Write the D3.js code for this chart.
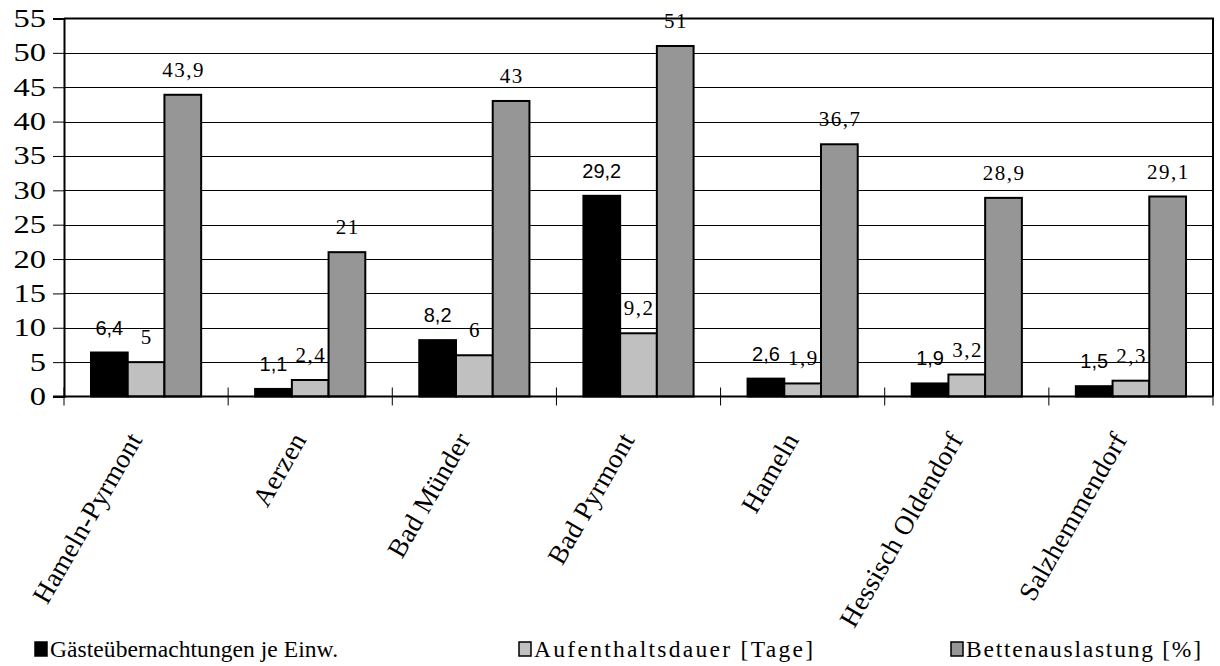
<!DOCTYPE html>
<html>
<head>
<meta charset="utf-8">
<script src="https://cdn.jsdelivr.net/npm/d3@7"></script>
<style>
  html, body { margin: 0; padding: 0; background: #fff; }
  svg { display: block; }
</style>
</head>
<body>
<svg id="chart" width="1220" height="666"></svg>
<script>
// Tourism indicators for the district Hameln-Pyrmont and its municipalities
const categories = ["Hameln-Pyrmont", "Aerzen", "Bad Münder", "Bad Pyrmont", "Hameln", "Hessisch Oldendorf", "Salzhemmendorf"];
const seriesNames = ["Gästeübernachtungen je Einw.", "Aufenthaltsdauer [Tage]", "Bettenauslastung [%]"];
const uebernachtungen = [6.4, 1.1, 8.2, 29.2, 2.6, 1.9, 1.5];
const aufenthaltsdauer = [5, 2.4, 6, 9.2, 1.9, 3.2, 2.3];
const bettenauslastung = [43.9, 21, 43, 51, 36.7, 28.9, 29.1];
const yTicks = [0, 5, 10, 15, 20, 25, 30, 35, 40, 45, 50, 55];

const SERIF = "\"Liberation Serif\", \"Times New Roman\", serif";
const SANS = "\"Liberation Sans\", Arial, sans-serif";

const seriesValues = [uebernachtungen, aufenthaltsdauer, bettenauslastung];
const fills = ["#000000", "#c0c0c0", "#969696"];
const labelFont = [SANS, SERIF, SERIF];
const labelSize = [20, 21, 21];
const labelSpacing = [0, 1.5, 1.5];

const svg = d3.select("#chart");
const plotLeft = 64, plotRight = 1213, plotTop = 18.5, plotBottom = 396.5;

const x = d3.scaleBand().domain(categories).range([plotLeft, plotRight]).paddingInner(0).paddingOuter(0);
const inner = d3.scaleBand().domain(d3.range(3)).range([0, x.bandwidth()]).paddingInner(0).paddingOuter(0.735);
const y = d3.scaleLinear().domain([0, 55]).range([plotBottom, plotTop]);

// horizontal gridlines
svg.append("g")
  .selectAll("line")
  .data(yTicks.filter(d => d > 0 && d < 55))
  .join("line")
  .attr("x1", plotLeft).attr("x2", plotRight)
  .attr("y1", d => Math.round(y(d)) + 0.5).attr("y2", d => Math.round(y(d)) + 0.5)
  .attr("stroke", "#000").attr("stroke-width", 1);

// plot frame (top and right)
svg.append("path")
  .attr("d", `M${plotLeft},${y(55)}H${plotRight}V${plotBottom}`)
  .attr("fill", "none").attr("stroke", "#000").attr("stroke-width", 2);

// bars
const groups = svg.append("g")
  .selectAll("g")
  .data(categories)
  .join("g")
  .attr("transform", d => `translate(${x(d)},0)`);

seriesValues.forEach((vals, s) => {
  groups.append("rect")
    .attr("x", inner(s))
    .attr("width", inner.bandwidth())
    .attr("y", (d, i) => y(vals[i]))
    .attr("height", (d, i) => y(0) - y(vals[i]))
    .attr("fill", fills[s])
    .attr("stroke", "#000")
    .attr("stroke-width", 2);
});

// value labels
seriesValues.forEach((vals, s) => {
  groups.append("text")
    .attr("x", inner(s) + inner.bandwidth() / 2 + labelSpacing[s] / 2)
    .attr("y", (d, i) => y(vals[i]) - 18)
    .attr("text-anchor", "middle")
    .style("font-family", labelFont[s])
    .style("font-size", labelSize[s] + "px")
    .style("letter-spacing", labelSpacing[s] + "px")
    .attr("fill", "#000")
    .text((d, i) => String(vals[i]).replace(".", ","));
});

// y axis
const yAxis = d3.axisLeft(y).tickValues(yTicks).tickSize(11).tickPadding(0).tickFormat(d => d);
const yG = svg.append("g").attr("transform", `translate(${plotLeft},0)`).call(yAxis);
yG.select(".domain").attr("stroke-width", 2);
yG.selectAll(".tick line").attr("stroke-width", 1);
yG.selectAll(".tick text")
  .attr("x", 0)
  .attr("transform", "translate(-18,0) scale(1.3,1)")
  .style("font-family", SERIF).style("font-size", "25px").attr("fill", "#000");

// x axis with category separators
const xG = svg.append("g");
xG.append("line")
  .attr("x1", plotLeft - 11).attr("x2", plotRight)
  .attr("y1", plotBottom).attr("y2", plotBottom)
  .attr("stroke", "#000").attr("stroke-width", 2);
xG.selectAll("line.sep")
  .data(categories.map(c => x(c)).concat([plotRight]))
  .join("line")
  .attr("class", "sep")
  .attr("x1", d => d).attr("x2", d => d)
  .attr("y1", plotBottom - 9).attr("y2", plotBottom + 9)
  .attr("stroke", "#000").attr("stroke-width", 1);

xG.selectAll("text")
  .data(categories)
  .join("text")
  .attr("transform", d => `translate(${x(d) + x.bandwidth() / 2 - 3},${plotBottom + 43}) rotate(-60)`)
  .attr("text-anchor", "end")
  .style("font-family", SERIF)
  .style("font-size", "27px")
  .style("letter-spacing", "0.3px")
  .attr("fill", "#000")
  .text(d => d);

// legend
const legendX = [35, 519, 951];
const legendW = [288, 279, 235];
const legend = svg.append("g");
seriesNames.forEach((name, s) => {
  legend.append("rect")
    .attr("x", legendX[s]).attr("y", 642)
    .attr("width", 12).attr("height", 14)
    .attr("fill", fills[s]).attr("stroke", "#000").attr("stroke-width", 1.5);
  legend.append("text")
    .attr("x", legendX[s] + 15).attr("y", 657)
    .attr("textLength", legendW[s])
    .attr("lengthAdjust", "spacing")
    .style("font-family", SERIF)
    .style("font-size", "23.5px")
    .attr("fill", "#000")
    .text(name);
});
</script>
</body>
</html>
